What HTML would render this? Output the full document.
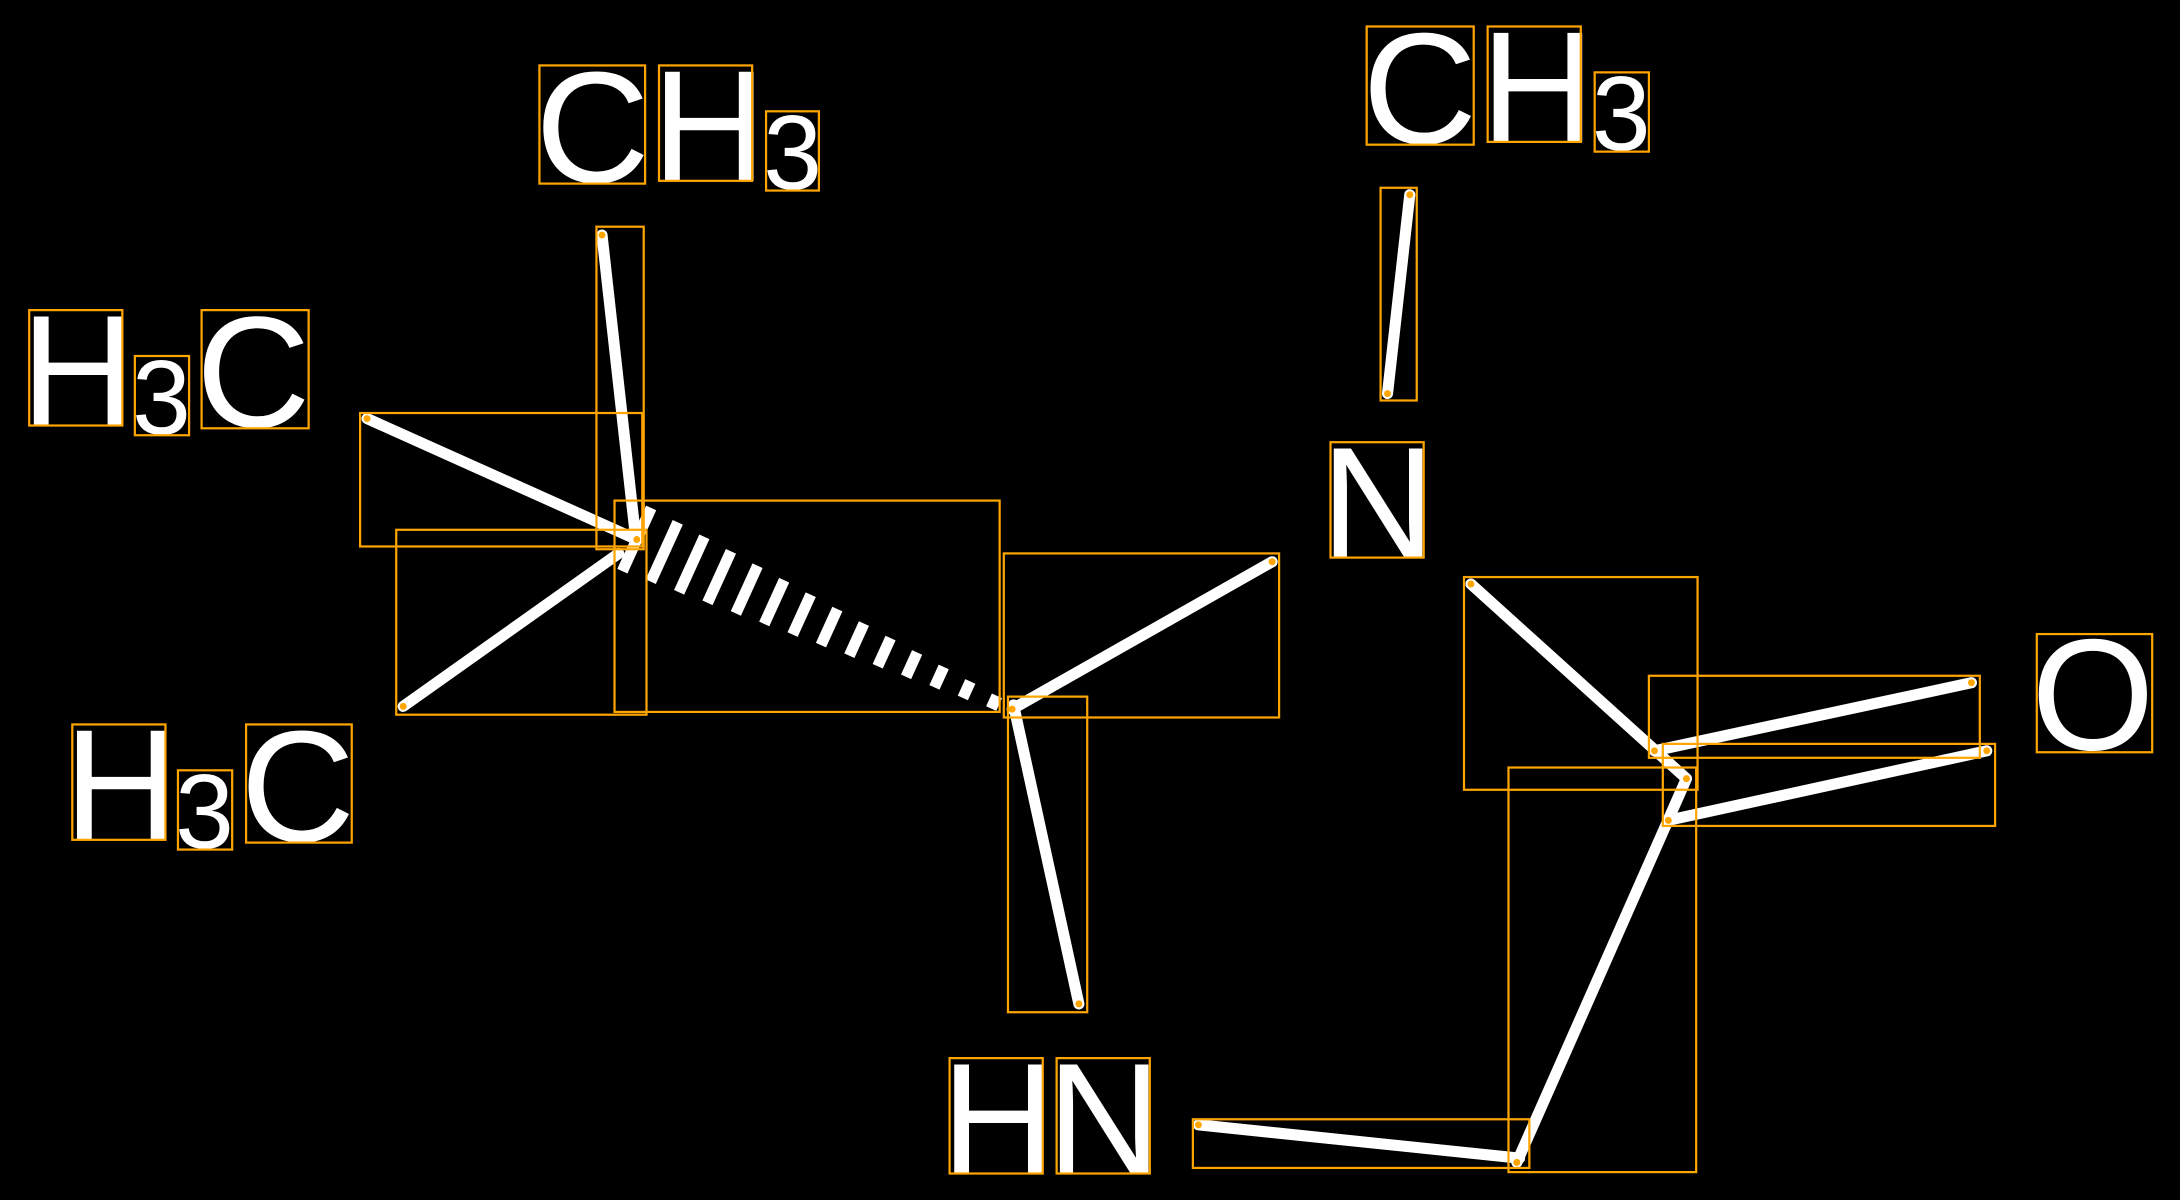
<!DOCTYPE html>
<html><head><meta charset="utf-8"><style>
html,body{margin:0;padding:0;background:#000;width:2180px;height:1200px;overflow:hidden}
svg{display:block}
text{font-family:"Liberation Sans",sans-serif;fill:#fff}
.b{fill:none;stroke:#FFA500;stroke-width:1.6}
.l{stroke:#fff;stroke-width:8;stroke-linecap:round}
.big{font-size:114px}
.sub{font-size:76px}
.d{fill:#FFA500}
</style></head><body>
<svg width="2180" height="1200" viewBox="0 0 1568 863" xmlns="http://www.w3.org/2000/svg">
<rect width="1568" height="863" fill="#000"/>
<g id="hash"></g>
<line class="l" x1="433" y1="169" x2="457" y2="385"/>
<line class="l" x1="264" y1="301" x2="458" y2="388"/>
<line class="l" x1="290" y1="508" x2="445" y2="398"/>
<line class="l" x1="728" y1="510" x2="915" y2="404"/>
<line class="l" x1="729" y1="507" x2="776" y2="722"/>
<line class="l" x1="1014" y1="140" x2="998" y2="283"/>
<line class="l" x1="1058" y1="420" x2="1213" y2="560"/>
<line class="l" x1="1190" y1="540" x2="1418" y2="491"/>
<line class="l" x1="1200" y1="590" x2="1429" y2="540"/>
<line class="l" x1="1091" y1="836" x2="1213" y2="560"/>
<line class="l" x1="862" y1="809" x2="1093" y2="833"/>
<g class="d">
<circle cx="433" cy="169" r="2.5"/><circle cx="458" cy="388" r="2.5"/><circle cx="264" cy="301" r="2.5"/>
<circle cx="290" cy="508" r="2.5"/><circle cx="728" cy="510" r="2.5"/><circle cx="915" cy="404" r="2.5"/>
<circle cx="776" cy="722" r="2.5"/><circle cx="1014" cy="140" r="2.5"/><circle cx="998" cy="283" r="2.5"/>
<circle cx="1058" cy="420" r="2.5"/><circle cx="1213" cy="560" r="2.5"/><circle cx="1190" cy="540" r="2.5"/>
<circle cx="1418" cy="491" r="2.5"/><circle cx="1200" cy="590" r="2.5"/><circle cx="1429" cy="540" r="2.5"/>
<circle cx="1091" cy="836" r="2.5"/><circle cx="862" cy="809" r="2.5"/>
</g>

<text class="big" x="385" y="131">C</text><text class="big" x="469" y="130">H</text><text class="sub" x="549" y="136">3</text>
<text class="big" x="15" y="306">H</text><text class="sub" x="95" y="312">3</text><text class="big" x="141" y="307">C</text>
<text class="big" x="46" y="604">H</text><text class="sub" x="126" y="610">3</text><text class="big" x="173" y="605">C</text>
<text class="big" x="980" y="103">C</text><text class="big" x="1065" y="102">H</text><text class="sub" x="1145" y="108">3</text>
<text class="big" x="950" y="401">N</text>
<text class="big" x="1461" y="539">O</text>
<text class="big" x="677" y="844">H</text><text class="big" x="753" y="844">N</text>

<rect class="b" x="388" y="47" width="76" height="85"/>
<rect class="b" x="474" y="47" width="67" height="83"/>
<rect class="b" x="551" y="80" width="38" height="57"/>
<rect class="b" x="21" y="223" width="67" height="83"/>
<rect class="b" x="97" y="256" width="39" height="57"/>
<rect class="b" x="145" y="223" width="77" height="85"/>
<rect class="b" x="52" y="521" width="67" height="83"/>
<rect class="b" x="128" y="554" width="39" height="57"/>
<rect class="b" x="177" y="521" width="76" height="85"/>
<rect class="b" x="983" y="19" width="77" height="85"/>
<rect class="b" x="1070" y="19" width="67" height="83"/>
<rect class="b" x="1147" y="52" width="39" height="57"/>
<rect class="b" x="957" y="318" width="67" height="83"/>
<rect class="b" x="1465" y="456" width="83" height="85"/>
<rect class="b" x="683" y="761" width="67" height="83"/>
<rect class="b" x="760" y="761" width="67" height="83"/>
<rect class="b" x="429" y="163" width="34" height="232"/>
<rect class="b" x="259" y="297" width="203" height="96"/>
<rect class="b" x="285" y="381" width="180" height="133"/>
<rect class="b" x="442" y="360" width="277" height="152"/>
<rect class="b" x="722" y="398" width="198" height="118"/>
<rect class="b" x="725" y="501" width="57" height="227"/>
<rect class="b" x="993" y="135" width="26" height="153"/>
<rect class="b" x="1053" y="415" width="168" height="153"/>
<rect class="b" x="1186" y="486" width="238" height="59"/>
<rect class="b" x="1196" y="535" width="239" height="59"/>
<rect class="b" x="1085" y="552" width="135" height="291"/>
<rect class="b" x="858" y="805" width="242" height="35"/>
</svg>
<script>
var g=document.getElementById('hash'),s='';
for(var i=0;i<14;i++){var t=i/13;var px=715-257*t,py=505-117*t,h=5+20*t;
s+='<line x1="'+(px+h*0.414)+'" y1="'+(py-h*0.91)+'" x2="'+(px-h*0.414)+'" y2="'+(py+h*0.91)+'" stroke="#fff" stroke-width="8"/>';}
g.innerHTML=s;
</script>
</body></html>
